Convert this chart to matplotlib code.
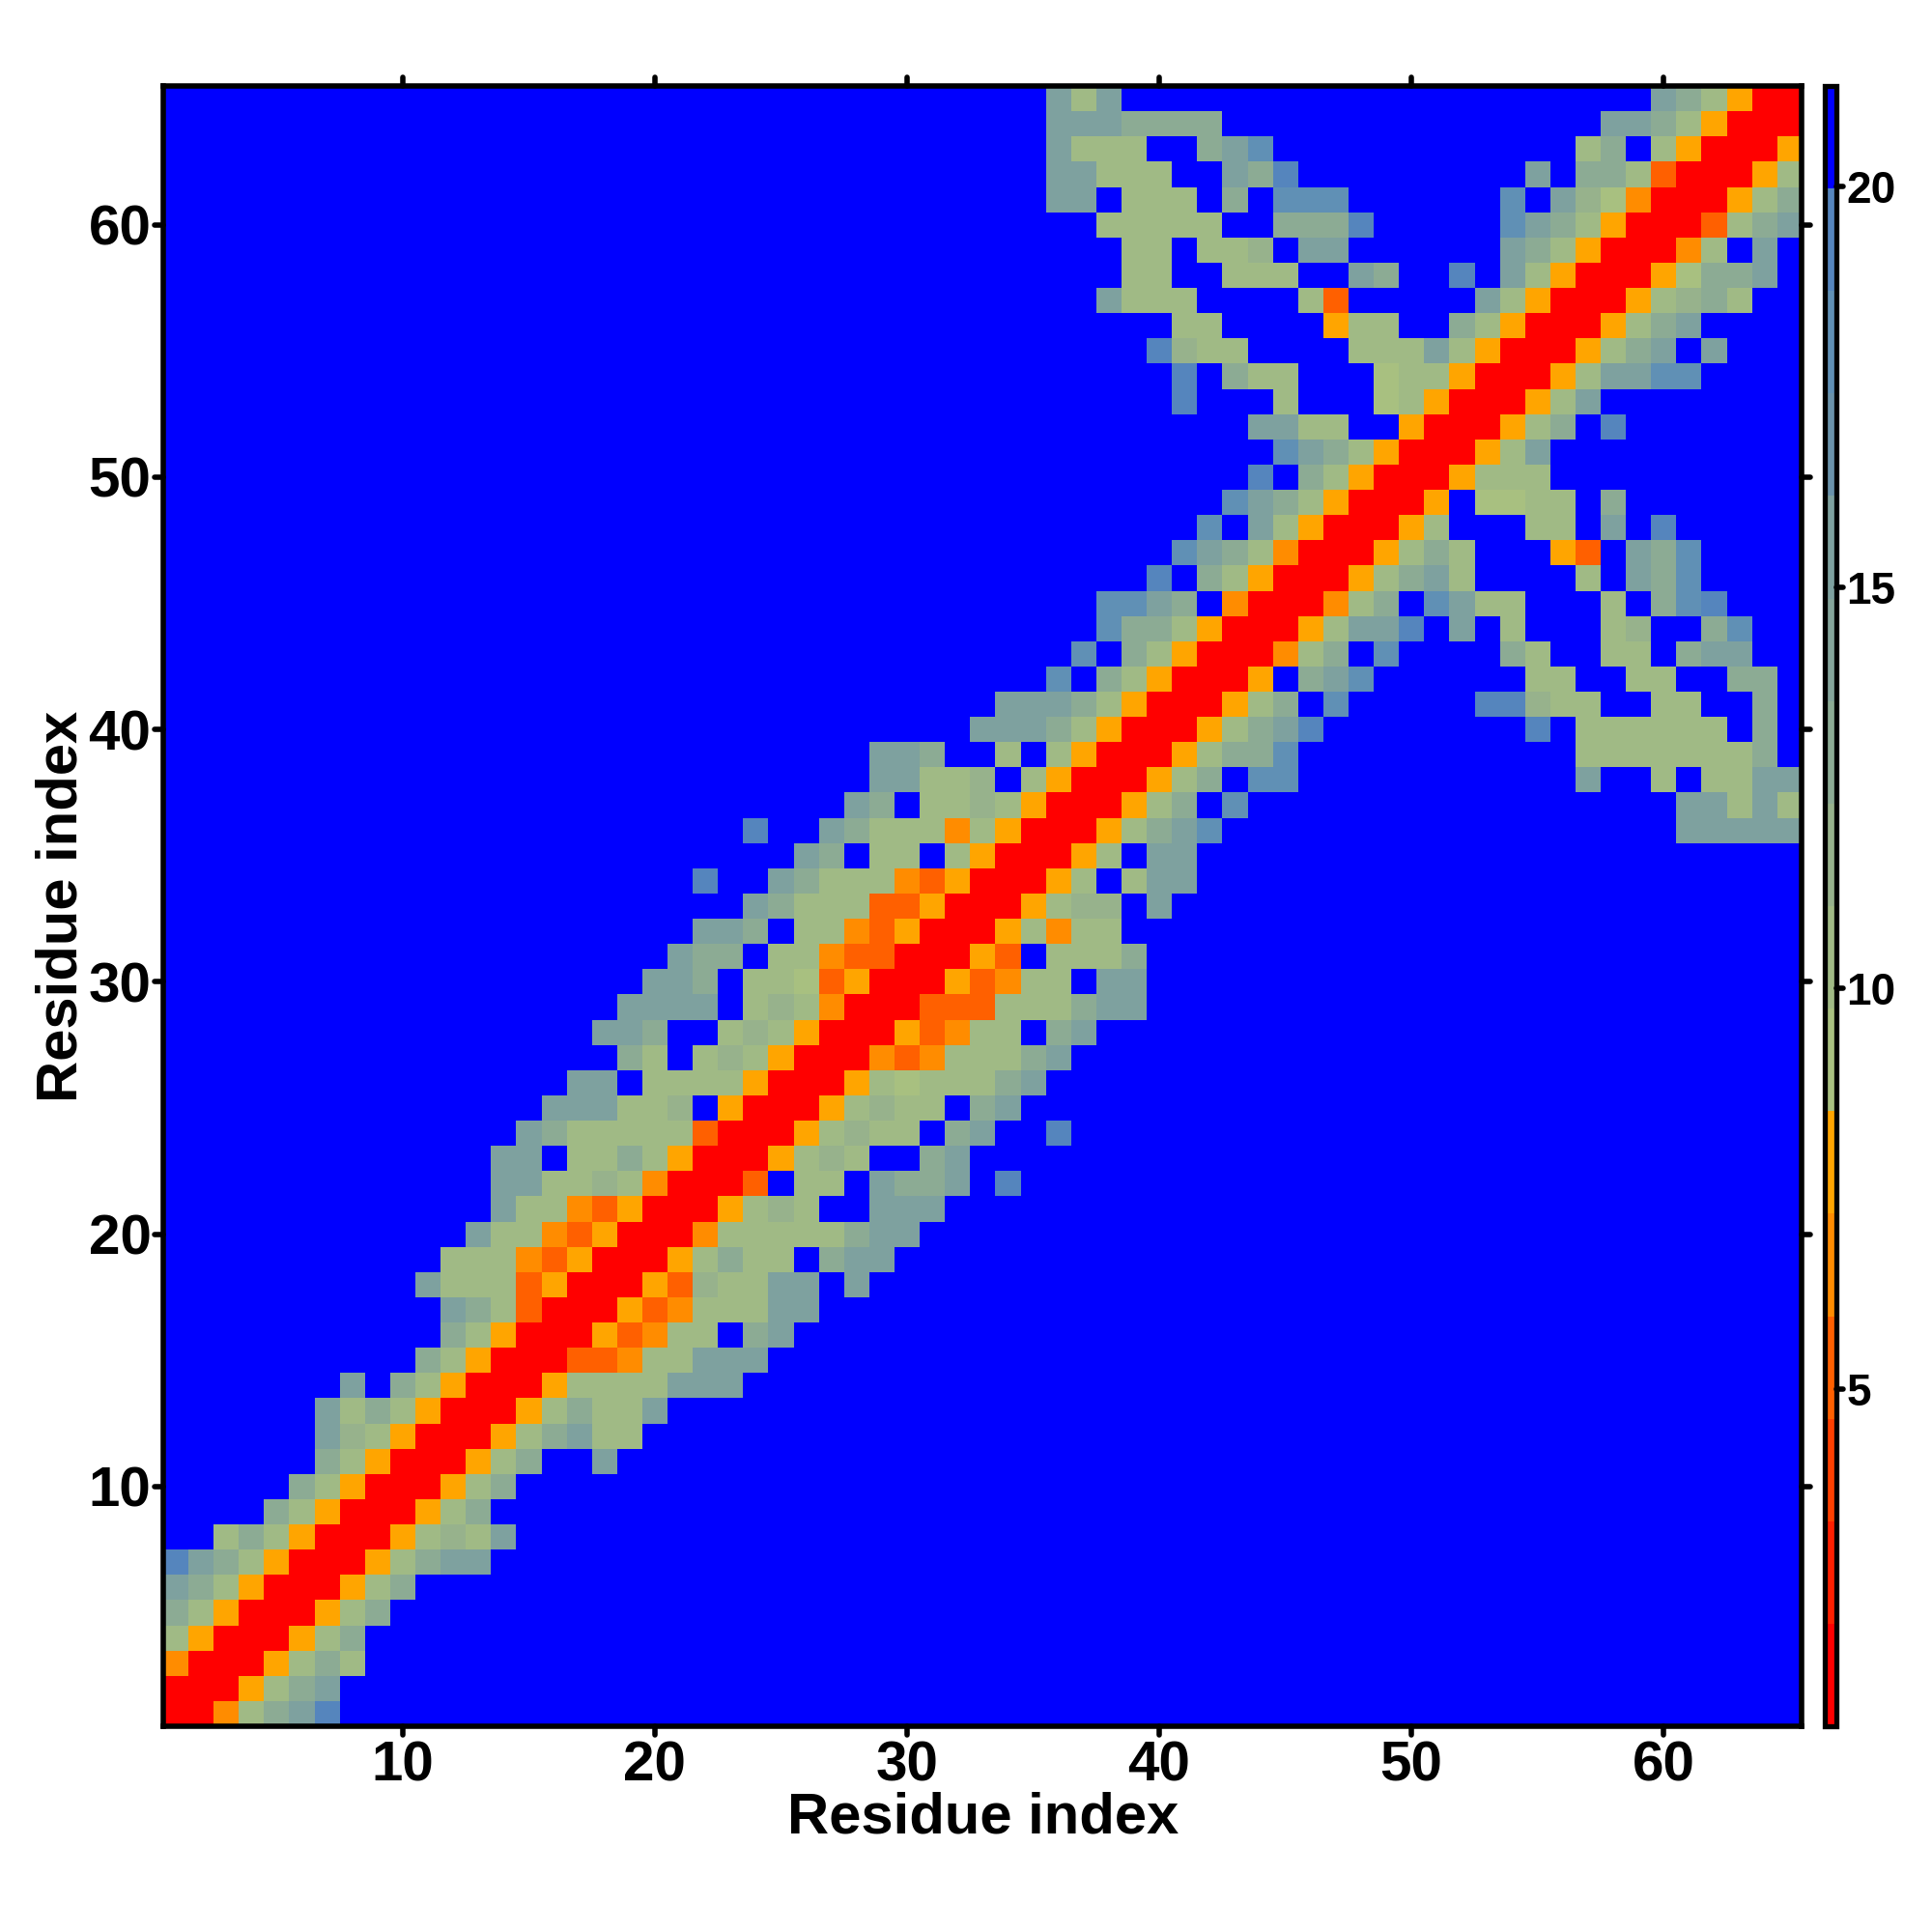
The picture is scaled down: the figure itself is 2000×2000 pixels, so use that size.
import numpy as np
import matplotlib
matplotlib.use("Agg")
import matplotlib.pyplot as plt
from matplotlib.colors import ListedColormap, BoundaryNorm
from matplotlib.markers import MarkerStyle

plt.rcParams['font.family'] = ['Liberation Sans', 'DejaVu Sans']
plt.rcParams['font.weight'] = 'bold'

# ── Data ──────────────────────────────────────────────────────────────────────
# distance read per cell, coded by letter; each row starts on the diagonal
# (the matrix is symmetric), blue cells beyond the last letter are left out
letter_values = {'R': 1.4, 'D': 5.3, 'M': 6.5, 'O': 7.8, 'A': 9.1, 'G': 10.4,
                 'H': 11.7, 'I': 13.0, 'T': 15.5, 'U': 18.0, 'S': 19.4, '.': 20.6}

upper_rows = [
    "RRMGITS", "RROGIT", "RROGIG", "RROGI", "RROGI", "RROGI", "RROGITT",
    "RROGHGT", "RROGI", "RROGI", "RROGI..T", "RROGITGG", "RROGIGGT",
    "RROGGGGTTT", "RRDDMGGTTT", "RRODMGG.IT", "RRODMGGGTT", "RRODHGGTT.T",
    "RROGIGG.ITT", "RRMGGGGGITT", "RROGHG..TTT", "RRD.GG.TIIT.S",
    "RROGHG..IT", "RROGHGG.IT..S", "RROGHGG.IT", "RROGAGGGIT", "RRMDMGGGIT",
    "RRODMGG.IT", "RRDDDGGGITT", "RRODMGG.TT", "RROD.GGGI", "RROGMGG",
    "RROGHH.T", "RROG.GTT", "RROG.TT",
    "RROGITU..................TTTTT",
    "RROGI.U.................TTGTG",
    "RROGI.UU...........T..G.GGTT",
    "RROGIIU...........GGGGGGGI",
    "RROGITS........S.GGGGGG.I",
    "RROGI.U.....SSHGG..GG..I",
    "RRO.ITU......GG..GG..II",
    "RRMGI.U....IG..GG.ITT",
    "RROGTTS.T.G...GH..IU",
    "RRMGI.UTGG...G.IUS",
    "RROGITG....G.TIU",
    "RROGIG...OD.TIU",
    "RROG...GG.T.S",
    "RRO.AAGG.I",
    "RROGGG", "RROGT", "RROGI.S", "RROGT", "RROGTTUU", "RROGIT.T", "RROGIT",
    "RROGHIG", "RROAIIT", "RRMG.T", "RRDGIT", "RROGI", "RROG", "RRO", "RR", "R",
]

xy_ticks   = [10, 20, 30, 40, 50, 60]
cbar_ticks = [5, 10, 15, 20]
z_min, z_max = 0.8, 21.25

level_colors = ['#ff0000', '#ff2000', '#ff4000', '#ff6000', '#ff8c00', '#ffa500',
                '#a8c080', '#a0ba85', '#97b28c', '#8cab94', '#84a49a', '#7ea19f',
                '#6a92aa', '#6090b5', '#5585bd', '#0000ff']

# ── Build matrix ──────────────────────────────────────────────────────────────
n = len(upper_rows)
z = np.full((n, n), letter_values['.'])
for j, row in enumerate(upper_rows):
    for k, ch in enumerate(row):
        z[j, j + k] = letter_values[ch]
        z[j + k, j] = letter_values[ch]

cmap = ListedColormap(level_colors)
bounds = np.linspace(z_min, z_max, len(level_colors) + 1)
norm = BoundaryNorm(bounds, cmap.N)

# ── Plot ──────────────────────────────────────────────────────────────────────
W = H = 2000
fig = plt.figure(figsize=(10, 10), dpi=200)
ax = fig.add_axes([169 / W, 1 - 1787 / H, (1865.4 - 169) / W, (1787 - 89) / H])
im = ax.imshow(z, origin='lower', extent=(0.5, n + 0.5, 0.5, n + 0.5),
               cmap=cmap, norm=norm, interpolation='nearest', aspect='auto')

ax.set_xticks(xy_ticks)
ax.set_yticks(xy_ticks)
ax.tick_params(top=True, right=True, length=3.2, width=2, labelsize=21)
ax.tick_params(axis='x', pad=2.0)
ax.tick_params(axis='y', pad=1.3)
ax.set_xlabel("Residue index", fontsize=21.5, fontweight='bold')
ax.set_ylabel("Residue index", fontsize=21.5, fontweight='bold')
ax.xaxis.set_label_coords(0.5, -0.040)
ax.yaxis.set_label_coords(-0.0457, 0.5)
for side in ax.spines.values():
    side.set_linewidth(2)

cax = fig.add_axes([1889.2 / W, 1 - 1787 / H, 11.7 / W, (1787 - 89) / H])
cb = fig.colorbar(im, cax=cax, ticks=cbar_ticks, spacing='proportional', drawedges=False)
cb.ax.minorticks_off()
cb.ax.tick_params(length=2.5, width=2, labelsize=16.5, pad=1.2)
cb.outline.set_linewidth(1.9)

# round the tick ends
for axis in (ax.xaxis, ax.yaxis, cb.ax.yaxis):
    for tick in axis.get_major_ticks():
        for line in (tick.tick1line, tick.tick2line):
            line.set_marker(MarkerStyle(line.get_marker(), capstyle='round'))

fig.savefig("out.png", dpi=200)
plt.close(fig)
